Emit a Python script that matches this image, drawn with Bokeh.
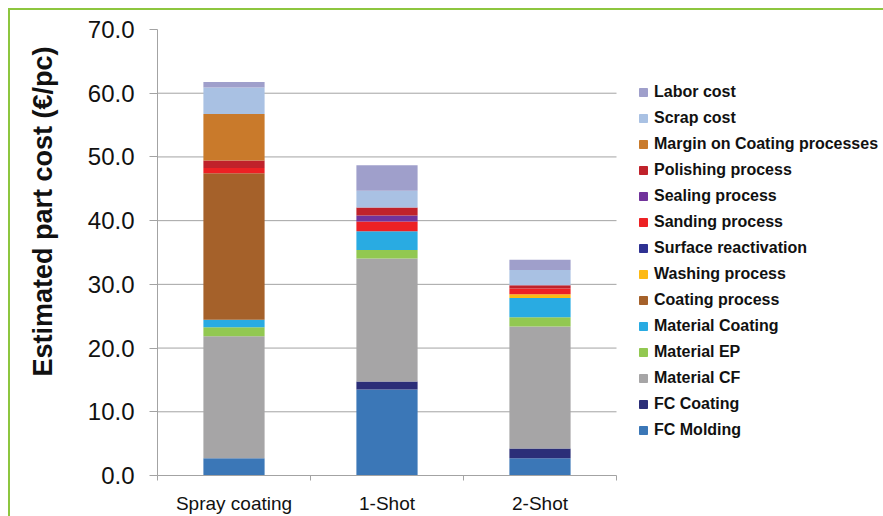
from bokeh.plotting import figure
from bokeh.models import (ColumnDataSource, FixedTicker, NumeralTickFormatter,
                          Legend, LegendItem, Range1d, Title)
from bokeh.embed import file_html
from bokeh.resources import INLINE

# ---- data -------------------------------------------------------------
categories = ["Spray coating", "1-Shot", "2-Shot"]

# cost components, bottom of the stack first (€/pc)
fc_molding = [2.7, 13.5, 2.7]
fc_coating = [0.0, 1.25, 1.55]
material_cf = [19.15, 19.3, 19.15]
material_ep = [1.4, 1.35, 1.45]
material_coating = [1.2, 2.95, 3.0]
coating_process = [23.0, 0.0, 0.0]
washing_process = [0.0, 0.0, 0.6]
surface_reactivation = [0.0, 0.0, 0.0]
sanding_process = [0.8, 1.5, 0.9]
sealing_process = [0.0, 0.95, 0.0]
polishing_process = [1.2, 1.25, 0.5]
margin_coating = [7.3, 0.0, 0.0]
scrap_cost = [4.15, 2.65, 2.4]
labor_cost = [0.85, 4.0, 1.6]

series_names = ["FC Molding", "FC Coating", "Material CF", "Material EP",
                "Material Coating", "Coating process", "Washing process",
                "Surface reactivation", "Sanding process", "Sealing process",
                "Polishing process", "Margin on Coating processes",
                "Scrap cost", "Labor cost"]
series_values = [fc_molding, fc_coating, material_cf, material_ep,
                 material_coating, coating_process, washing_process,
                 surface_reactivation, sanding_process, sealing_process,
                 polishing_process, margin_coating, scrap_cost, labor_cost]
series_colors = ["#3B77B7", "#2B2E78", "#A6A5A6", "#92C851", "#29ABE2",
                 "#A5612A", "#FDB913", "#2E3192", "#ED2124", "#71339B",
                 "#C0222B", "#C97A2B", "#A9C1E3", "#9F9FCB"]

y_ticks = [0, 10, 20, 30, 40, 50, 60, 70]
grid_ticks = [10, 20, 30, 40, 50, 60]
y_label = "Estimated part cost (€/pc)"

# ---- source -------------------------------------------------------------
n_cat = len(categories)
keys = ["s%d" % i for i in range(len(series_names))]
data = {"x": [i + 0.5 for i in range(n_cat)]}
for k, vals in zip(keys, series_values):
    data[k] = vals
source = ColumnDataSource(data)

# ---- figure -------------------------------------------------------------
# the plot frame runs to the right edge so the legend can sit beside the bars
W, H = 883, 516
LEFT, TOP, BOTTOM = 157, 29, 39
slot_px = 153.0
x_end = (W - LEFT) / slot_px

p = figure(width=W, height=H, output_backend="svg", toolbar_location=None,
           x_range=Range1d(0, x_end), y_range=Range1d(0, 70),
           min_border_left=LEFT, min_border_right=0,
           min_border_top=TOP, min_border_bottom=BOTTOM)
p.border_fill_color = None
p.background_fill_color = "white"
p.outline_line_color = None
p.styles = {
    "background-color": "white",
    "background-image": "linear-gradient(#8DC63F, #8DC63F), linear-gradient(#8DC63F, #8DC63F)",
    "background-size": "2px 508px, 875px 2px",
    "background-position": "8px 8px, 8px 8px",
    "background-repeat": "no-repeat",
}

# horizontal gridlines limited to the category area
p.ygrid.visible = False
p.xgrid.visible = False
p.segment(x0=0, x1=n_cat, y0=grid_ticks, y1=grid_ticks,
          line_color="#A3A3A3", line_width=1, level="underlay")

p.vbar_stack(keys, x="x", width=0.4, source=source, color=series_colors,
             line_color=None)

# legend built from small square markers, top entry = top of stack
items = []
for name, col in zip(series_names, series_colors):
    r = p.scatter(x=[float("nan")], y=[float("nan")], marker="square",
                  size=8, fill_color=col, line_color=col)
    items.append(LegendItem(label=name, renderers=[r]))
items.reverse()

legend = Legend(items=items, location=(476, 35), orientation="vertical",
                glyph_width=20, glyph_height=20, label_height=20,
                label_standoff=1, spacing=6, padding=0, margin=0,
                label_text_font="Liberation Sans", label_text_font_style="bold",
                label_text_font_size="16px", label_text_color="#111111",
                background_fill_alpha=0, border_line_color=None)
p.add_layout(legend)

# y axis
p.yaxis.ticker = FixedTicker(ticks=y_ticks)
p.yaxis.formatter = NumeralTickFormatter(format="0.0")
p.yaxis.major_label_text_font = "Liberation Sans"
p.yaxis.major_label_text_font_size = "24px"
p.yaxis.major_label_text_color = "#111111"
p.yaxis.major_label_standoff = 15
p.yaxis.major_tick_out = 8
p.yaxis.major_tick_in = 0
p.yaxis.minor_tick_out = 0
p.yaxis.minor_tick_in = 0
p.yaxis.axis_line_color = "#A3A3A3"
p.yaxis.major_tick_line_color = "#A3A3A3"

# y axis title, set a little above the middle of the axis
ytitle = Title(text=y_label, align="left", offset=99, vertical_align="middle",
               standoff=51, text_font="Liberation Sans",
               text_font_style="bold", text_font_size="27px",
               text_color="#111111")
p.add_layout(ytitle, "left")

# x axis: labels at bar centres, ticks on category boundaries
p.xaxis.bounds = (0, n_cat)
p.xaxis.ticker = FixedTicker(ticks=data["x"],
                             minor_ticks=list(range(n_cat + 1)))
p.xaxis.major_label_overrides = {x: c for x, c in zip(data["x"], categories)}
p.xaxis.major_label_text_font = "Liberation Sans"
p.xaxis.major_label_text_font_size = "19px"
p.xaxis.major_label_text_color = "#111111"
p.xaxis.major_label_standoff = 12
p.xaxis.major_tick_out = 0
p.xaxis.major_tick_in = 0
p.xaxis.minor_tick_out = 5
p.xaxis.minor_tick_in = 0
p.xaxis.axis_line_color = "#A3A3A3"
p.xaxis.minor_tick_line_color = "#A3A3A3"

open("out.html", "w").write(file_html(p, INLINE))
